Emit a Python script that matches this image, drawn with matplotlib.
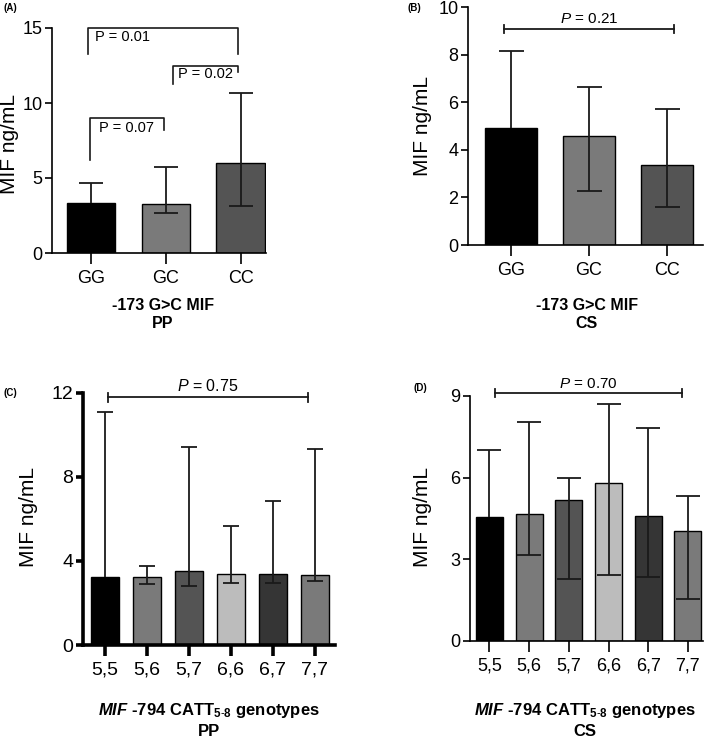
import numpy as np
import matplotlib
matplotlib.use("Agg")
import matplotlib.pyplot as plt

plt.rcParams['font.family'] = ['Liberation Sans', 'DejaVu Sans']
plt.rcParams['mathtext.fontset'] = 'custom'
plt.rcParams['mathtext.rm'] = 'Liberation Sans'
plt.rcParams['mathtext.it'] = 'Liberation Sans:italic'
plt.rcParams['mathtext.bf'] = 'Liberation Sans:bold'
plt.rcParams['mathtext.bfit'] = 'Liberation Sans:bold:italic'

# -173 G>C MIF genotypes
snp_labels = ["GG", "GC", "CC"]
snp_colors = ["#000000", "#7a7a7a", "#545454"]
pp_snp_mean = [3.35, 3.25, 6.0]
pp_snp_upper = [4.65, 5.75, 10.65]
pp_snp_lower = [np.nan, 2.7, 3.15]
cs_snp_mean = [4.93, 4.58, 3.36]
cs_snp_upper = [8.16, 6.65, 5.71]
cs_snp_lower = [np.nan, 2.27, 1.58]

# -794 CATT5-8 genotypes
catt_labels = ["5,5", "5,6", "5,7", "6,6", "6,7", "7,7"]
catt_colors = ["#000000", "#7a7a7a", "#545454", "#bcbcbc", "#353535", "#7a7a7a"]
pp_catt_mean = [3.25, 3.25, 3.51, 3.40, 3.40, 3.35]
pp_catt_upper = [11.1, 3.76, 9.44, 5.67, 6.86, 9.33]
pp_catt_lower = [np.nan, 2.9, 2.81, 2.94, 2.97, 3.06]
cs_catt_mean = [4.56, 4.66, 5.17, 5.79, 4.60, 4.02]
cs_catt_upper = [7.01, 8.05, 6.0, 8.71, 7.81, 5.33]
cs_catt_lower = [np.nan, 3.15, 2.26, 2.41, 2.35, 1.53]

W, H = 709, 742
fig = plt.figure(figsize=(W / 100, H / 100), dpi=100)


def px_axes(left, top, right, bottom):
    return fig.add_axes([left / W, 1 - bottom / H, (right - left) / W, (bottom - top) / H])


def ftext(x, y, s, **kw):
    fig.text(x / W, 1 - y / H, s, **kw)


def bar_panel(ax, labels, colors, mean, upper, lower, xlim, ylim, yticks,
              width, cap, lw, fs_tick):
    x = np.arange(len(labels))
    mean = np.array(mean)
    upper = np.array(upper)
    lower = np.array(lower)
    ax.bar(x, mean, width=width, color=colors, edgecolor="black", linewidth=1.0, zorder=2)
    # error bars: whisker from lower (or bar top) to upper, caps where known
    bottom = np.where(np.isnan(lower), mean, lower)
    ax.vlines(x, bottom, upper, color="#1a1a1a", lw=1.3, zorder=3)
    ax.plot(x, upper, ls="none", marker="_", ms=cap, mew=1.3, color="#1a1a1a", zorder=3)
    ok = ~np.isnan(lower)
    ax.plot(x[ok], lower[ok], ls="none", marker="_", ms=cap, mew=1.3, color="#1a1a1a", zorder=3)
    ax.set_xlim(*xlim)
    ax.set_ylim(*ylim)
    ax.set_yticks(yticks)
    ax.set_xticks(x)
    ax.set_xticklabels(labels)
    for s in ["top", "right"]:
        ax.spines[s].set_visible(False)
    for s in ["left", "bottom"]:
        ax.spines[s].set_linewidth(lw)
    ax.tick_params(axis="y", length=5, width=lw, labelsize=fs_tick, pad=2)
    ax.tick_params(axis="x", length=8, width=lw, labelsize=fs_tick, pad=4)


def line_bracket(ax, x0, x1, y, h, text, ty, fs):
    ax.plot([x0, x1], [y, y], color="#1a1a1a", lw=1.3, clip_on=False)
    ax.plot([x0, x0], [y - h, y + h], color="#1a1a1a", lw=1.3, clip_on=False)
    ax.plot([x1, x1], [y - h, y + h], color="#1a1a1a", lw=1.3, clip_on=False)
    ax.text((x0 + x1) / 2, ty, text, ha="center", va="center", fontsize=fs, clip_on=False)


# (A)
axA = px_axes(52, 28, 266, 253)
bar_panel(axA, snp_labels, snp_colors, pp_snp_mean, pp_snp_upper, pp_snp_lower,
          (-0.52, 2.34), (0, 15), [0, 5, 10, 15], 0.645, 17, 1.2, 13)
for xs, ys, txt, tx, ty in [
    ([-0.04, -0.04, 1.97, 1.97], [13.3, 15, 15, 13.3], "P = 0.01", 0.05, 14.4),
    ([1.10, 1.10, 1.96, 1.96], [11.3, 12.5, 12.5, 12.07], "P = 0.02", 1.17, 11.9),
    ([-0.01, -0.01, 0.98, 0.98], [6.2, 9.0, 9.0, 8.2], "P = 0.07", 0.11, 8.3),
]:
    axA.plot(xs, ys, color="#1a1a1a", lw=1.2, clip_on=False)
    axA.text(tx, ty, txt, ha="left", va="center", fontsize=10.5, clip_on=False)

# (B)
axB = px_axes(468, 7, 703, 245)
bar_panel(axB, snp_labels, snp_colors, cs_snp_mean, cs_snp_upper, cs_snp_lower,
          (-0.55, 2.46), (0, 10), [0, 2, 4, 6, 8, 10], 0.67, 18, 1.2, 13)
line_bracket(axB, -0.09, 2.09, 9.06, 0.17, r"$\mathit{P}$ = 0.21", 9.5, 11)

# (C)
axC = px_axes(83, 392.7, 335, 645)
bar_panel(axC, catt_labels, catt_colors, pp_catt_mean, pp_catt_upper, pp_catt_lower,
          (-0.52, 5.48), (0, 12), [0, 4, 8, 12], 0.67, 12, 2.6, 14)
line_bracket(axC, 0.07, 4.83, 11.78, 0.2, r"$\mathit{P}$ = 0.75", 12.3, 11.5)

# (D)
axD = px_axes(470, 396, 703, 640.7)
bar_panel(axD, catt_labels, catt_colors, cs_catt_mean, cs_catt_upper, cs_catt_lower,
          (-0.49, 5.38), (0, 9), [0, 3, 6, 9], 0.68, 17, 1.2, 13)
line_bracket(axD, 0.14, 4.85, 9.12, 0.15, r"$\mathit{P}$ = 0.70", 9.45, 11)

# y labels
for x, y in [(10, 144), (423, 126), (28, 517), (423, 517)]:
    ftext(x, y, "MIF ng/mL", rotation=90, ha="center", va="center", fontsize=15)

# panel tags
for x, y, t in [(3, 8, "(A)"), (408, 8, "(B)"), (3, 393, "(C)"), (413, 388, "(D)")]:
    ftext(x, y, t, ha="left", va="center", fontsize=7, fontweight="bold")

# x titles
ftext(163, 305, "-173 G>C MIF", ha="center", va="center", fontsize=11.5, fontweight="bold")
ftext(163, 323, "PP", ha="center", va="center", fontsize=11.5, fontweight="bold")
ftext(587, 305, "-173 G>C MIF", ha="center", va="center", fontsize=11.5, fontweight="bold")
ftext(587, 323, "CS", ha="center", va="center", fontsize=11.5, fontweight="bold")
catt_title = r"$\mathbfit{MIF}$ -794 CATT$_{\mathbf{5\text{-}8}}$ genotypes"
ftext(209, 711, catt_title, ha="center", va="center", fontsize=12, fontweight="bold")
ftext(209, 731, "PP", ha="center", va="center", fontsize=12, fontweight="bold")
ftext(585, 711, catt_title, ha="center", va="center", fontsize=12, fontweight="bold")
ftext(585, 731, "CS", ha="center", va="center", fontsize=12, fontweight="bold")

fig.savefig("out.png", dpi=100)
